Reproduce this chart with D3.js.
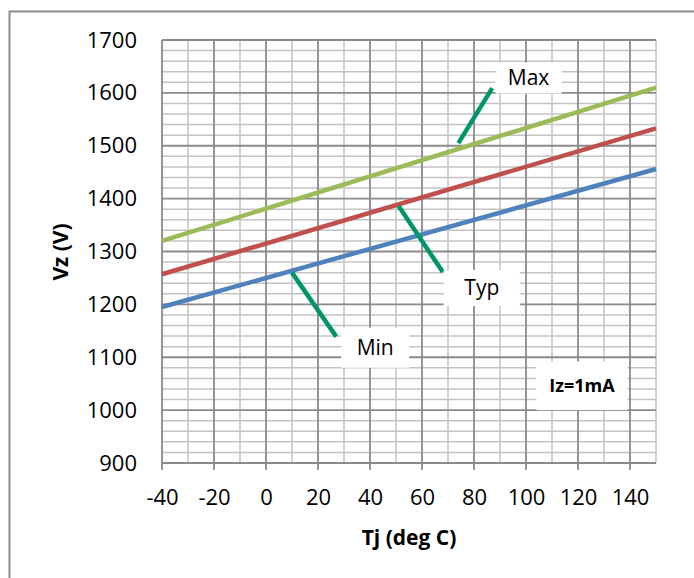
<!DOCTYPE html>
<html>
<head>
<meta charset="UTF-8">
<title>Vz vs Tj</title>
<script src="https://cdn.jsdelivr.net/npm/d3@7"></script>
<style>
  body { margin: 0; background: #fff; }
  text { font-family: "Open Sans", "Liberation Sans", sans-serif; }
</style>
</head>
<body>
<div id="chart"></div>
<script>
// temperatures and zener voltages
const temps = [-40, 150];
const vzMin = [1195, 1456];
const vzTyp = [1257, 1533];
const vzMax = [1320, 1610];
const xTicks = [-40, -20, 0, 20, 40, 60, 80, 100, 120, 140];
const yTicks = [900, 1000, 1100, 1200, 1300, 1400, 1500, 1600, 1700];

// callouts: label, label position, leader start (on line), leader end
const callouts = [
  { label: "Max", at: [101, 1628], from: [87, 1609], to: [74, 1505], w: 66, h: 31 },
  { label: "Typ", at: [83, 1231], from: [51, 1386], to: [68, 1261], w: 76, h: 36 },
  { label: "Min", at: [42, 1118], from: [10, 1260], to: [27, 1139], w: 68, h: 40 }
];

const width = 694, height = 578;
const marginTop = 40, marginLeft = 162, plotW = 494, plotH = 423;

const svg = d3.select("#chart").append("svg")
  .attr("width", width)
  .attr("height", height);

// chart frame
svg.append("path")
  .attr("d", "M9.5," + height + "V11.5H" + width)
  .attr("fill", "none")
  .attr("stroke", "#8c8c8c")
  .attr("stroke-width", 2);

const x = d3.scaleLinear().domain([-40, 150]).range([marginLeft, marginLeft + plotW]);
const y = d3.scaleLinear().domain([900, 1700]).range([marginTop + plotH, marginTop]);

const g = svg.append("g");

// minor grid
g.selectAll(".vminor")
  .data(d3.range(-30, 151, 10).filter(v => v % 20 !== 0))
  .join("line")
  .attr("x1", d => x(d)).attr("x2", d => x(d))
  .attr("y1", y(900)).attr("y2", y(1700))
  .attr("stroke", "#c3c3c3").attr("stroke-width", 1.5);

g.selectAll(".hminor")
  .data(d3.range(920, 1700, 20).filter(v => v % 100 !== 0))
  .join("line")
  .attr("x1", x(-40)).attr("x2", x(150))
  .attr("y1", d => y(d)).attr("y2", d => y(d))
  .attr("stroke", "#c3c3c3").attr("stroke-width", 1.5);

// major grid
g.selectAll(".vmajor")
  .data(xTicks)
  .join("line")
  .attr("x1", d => x(d)).attr("x2", d => x(d))
  .attr("y1", y(900) + 7).attr("y2", y(1700))
  .attr("stroke", "#8a8a8a").attr("stroke-width", 1.8);

g.selectAll(".hmajor")
  .data(yTicks)
  .join("line")
  .attr("x1", x(-40)).attr("x2", x(150))
  .attr("y1", d => y(d)).attr("y2", d => y(d))
  .attr("stroke", "#8a8a8a").attr("stroke-width", 1.8);

// tick labels
svg.append("g")
  .attr("transform", "translate(" + (marginLeft - 25) + ",0)")
  .call(d3.axisLeft(y).tickValues(yTicks).tickFormat(d => String(d)).tickSize(0).tickPadding(0))
  .call(a => a.select(".domain").remove())
  .selectAll("text")
  .attr("font-size", 22)
  .attr("font-family", "Open Sans")
  .attr("fill", "#000");

svg.append("g")
  .attr("transform", "translate(0," + (marginTop + plotH + 26) + ")")
  .call(d3.axisBottom(x).tickValues(xTicks).tickFormat(d => String(d)).tickSize(0).tickPadding(0))
  .call(a => a.select(".domain").remove())
  .selectAll("text")
  .attr("font-size", 22)
  .attr("font-family", "Open Sans")
  .attr("fill", "#000");

// series
const series = [
  { vals: vzMax, color: "#9bbb59" },
  { vals: vzTyp, color: "#c0504d" },
  { vals: vzMin, color: "#4f81bd" }
];
const line = d3.line().x(d => x(d[0])).y(d => y(d[1]));
svg.selectAll(".series")
  .data(series)
  .join("path")
  .attr("d", s => line(temps.map((t, i) => [t, s.vals[i]])))
  .attr("fill", "none")
  .attr("stroke", s => s.color)
  .attr("stroke-width", 4.5);

// callouts
callouts.forEach(c => {
  svg.append("line")
    .attr("x1", x(c.from[0])).attr("y1", y(c.from[1]))
    .attr("x2", x(c.to[0])).attr("y2", y(c.to[1]))
    .attr("stroke", "#00956b").attr("stroke-width", 4.5);
  svg.append("rect")
    .attr("x", x(c.at[0]) - c.w / 2).attr("y", y(c.at[1]) - c.h / 2)
    .attr("width", c.w).attr("height", c.h)
    .attr("fill", "#fff");
  svg.append("text")
    .attr("x", x(c.at[0])).attr("y", y(c.at[1]))
    .attr("dy", "0.35em")
    .attr("text-anchor", "middle")
    .attr("font-size", 21)
    .text(c.label);
});

// condition box
svg.append("rect")
  .attr("x", x(104)).attr("y", y(1092))
  .attr("width", x(139) - x(104)).attr("height", y(1000) - y(1092))
  .attr("fill", "#fff");
svg.append("text")
  .attr("x", x(121.5)).attr("y", y(1046))
  .attr("dy", "0.35em")
  .attr("text-anchor", "middle")
  .attr("font-size", 18)
  .attr("font-weight", "bold")
  .text("Iz=1mA");

// axis titles
svg.append("text")
  .attr("transform", "translate(61,252) rotate(-90)")
  .attr("dy", "0.35em")
  .attr("text-anchor", "middle")
  .attr("font-size", 21)
  .attr("font-weight", "bold")
  .text("Vz (V)");

svg.append("text")
  .attr("x", 409).attr("y", 538)
  .attr("dy", "0.35em")
  .attr("text-anchor", "middle")
  .attr("font-size", 21)
  .attr("font-weight", "bold")
  .text("Tj (deg C)");
</script>
</body>
</html>
